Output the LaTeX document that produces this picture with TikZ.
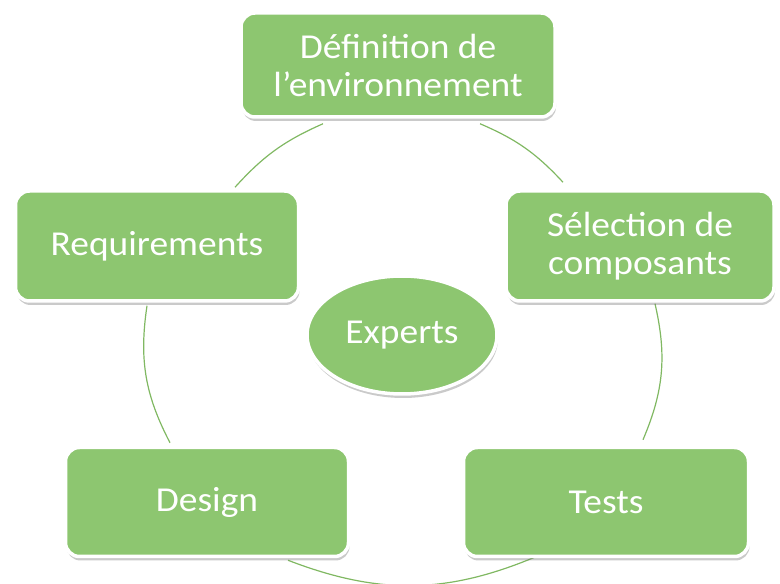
\documentclass[tikz,border=0pt]{standalone}
\usepackage{fontspec}
\setmainfont{Carlito}[FakeStretch=1.07]
\usetikzlibrary{shadows,calc,shapes.geometric}
\definecolor{boxgreen}{RGB}{141,198,112}
\definecolor{arcgreen}{RGB}{128,184,98}
\pgfdeclarelayer{background}
\pgfsetlayers{background,main}
\begin{document}
\begin{tikzpicture}[x=1pt,y=1pt,
  basebox/.style={fill=boxgreen, draw=white, line width=3.5pt, text=white, align=center,
    font=\fontsize{35}{38}\selectfont, inner sep=0pt,
    drop shadow={shadow xshift=1pt, shadow yshift=-4pt, opacity=0.35, fill=black!60}},
  stepbox/.style={basebox, rectangle, rounded corners=14pt},
  centerbox/.style={basebox, ellipse},
  arcline/.style={draw=arcgreen, line width=1.2pt}
]
\useasboundingbox (0,0) rectangle (780,584);
\node[stepbox, minimum width=314pt, minimum height=104pt] (def) at (398,519) {Définition de\\l’environnement};
\node[stepbox, minimum width=283pt, minimum height=110pt] (req) at (157,338) {Requirements};
\node[stepbox, minimum width=268pt, minimum height=110pt] (sel) at (640,338) {Sélection de\\composants};
\node[stepbox, minimum width=283pt, minimum height=109pt] (des) at (207,82) {Design};
\node[stepbox, minimum width=285pt, minimum height=109pt] (tst) at (606,82) {Tests};
\node[centerbox, minimum width=190pt, minimum height=118pt] (exp) at (402,249) {Experts};
\begin{pgfonlayer}{background}
\draw[arcline] ([xshift=-75pt,yshift=-5pt]def.south) to[bend right=12] ([xshift=78pt,yshift=2pt]req.north);
\draw[arcline] ([xshift=82pt,yshift=-5pt]def.south) to[bend left=12] ([xshift=-77pt,yshift=7pt]sel.north);
\draw[arcline] ([xshift=-10pt,yshift=-3pt]req.south) to[bend right=18] ([xshift=-37pt,yshift=3pt]des.north);
\draw[arcline] ([xshift=15pt,yshift=-1pt]sel.south) to[bend left=18] ([xshift=37pt,yshift=6pt]tst.north);
\draw[arcline] ([xshift=81pt,yshift=-2pt]des.south) to[bend right=22] ([xshift=-69pt,yshift=2pt]tst.south);
\end{pgfonlayer}
\end{tikzpicture}
\end{document}
